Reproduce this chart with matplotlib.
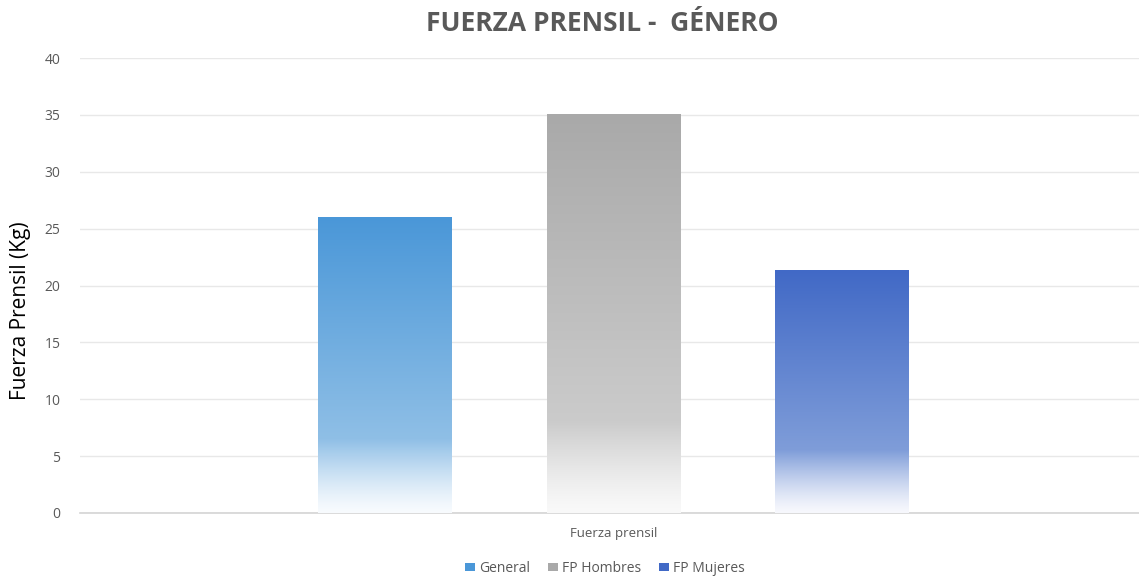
import numpy as np
import matplotlib
matplotlib.use("Agg")
import matplotlib.pyplot as plt
from matplotlib.colors import to_rgb
from matplotlib.patches import Patch

# ---- data ----
category = "Fuerza prensil"
series = ["General", "FP Hombres", "FP Mujeres"]
values = [26.0, 35.0, 21.3]
title = "FUERZA PRENSIL -  GÉNERO"
ylabel = "Fuerza Prensil (Kg)"
yticks = [0, 5, 10, 15, 20, 25, 30, 35, 40]

# ---- styles ----
top_colors = ["#4a97d8", "#a9a9a9", "#4169c6"]
mid_colors = ["#8fbfe6", "#cbcbcb", "#7f9dd9"]
bottom_colors = ["#f8fbfe", "#f9f9f9", "#f7f8fd"]
fade_start = [6.5, 8.0, 5.5]  # data y where fade to white begins

plt.rcParams['font.family'] = ['Open Sans', 'DejaVu Sans']
txt_gray = "#595959"

fig = plt.figure(figsize=(11.39, 5.78), dpi=100)
ax = fig.add_axes([80 / 1139, 65 / 578, 1 - 80 / 1139, 455 / 578])

ax.set_xlim(-0.504, 0.496)
ax.set_ylim(0, 40)
ax.set_yticks(yticks)
ax.grid(axis='y', color='#e8e8e8', linewidth=1)
ax.set_axisbelow(True)
for s in ["top", "right", "left"]:
    ax.spines[s].set_visible(False)
ax.spines["bottom"].set_color("#d4d4d4")
ax.spines["bottom"].set_linewidth(1.2)
ax.tick_params(axis='y', length=0, labelsize=10, labelcolor=txt_gray, pad=14)
ax.set_xticks([0])
ax.set_xticklabels([category])
ax.tick_params(axis='x', length=0, labelsize=9.5, labelcolor=txt_gray, pad=10)

width = 0.1265
spacing = 0.2158
offsets = [(i - 1) * spacing for i in range(len(series))]

bars = ax.bar(offsets, values, width=width, facecolor='none', edgecolor='none', zorder=2)

N = 400
for b, v, tc, mc, bc, fs in zip(bars, values, top_colors, mid_colors, bottom_colors, fade_start):
    ys = np.linspace(0, v, N)
    t, m, bo = np.array(to_rgb(tc)), np.array(to_rgb(mc)), np.array(to_rgb(bc))
    img = np.zeros((N, 1, 3))
    for k, y in enumerate(ys):
        if y >= fs:
            f = (y - fs) / (v - fs)
            c = m + (t - m) * f
        else:
            f = y / fs
            f = f ** 1.3
            c = bo + (m - bo) * f
        img[k, 0] = c
    x0 = b.get_x()
    ax.imshow(img, extent=[x0, x0 + b.get_width(), 0, v], origin='lower',
              aspect='auto', zorder=3, interpolation='bilinear')
ax.set_xlim(-0.504, 0.496)
ax.set_ylim(0, 40)

ax.set_ylabel(ylabel, fontsize=15, color='black')
ax.yaxis.set_label_coords(-0.046, 0.444)
fig.text(0.5285, 0.96, title, ha='center', va='center', fontsize=19,
         fontweight='bold', color=txt_gray)

handles = [Patch(facecolor=c, edgecolor='none') for c in top_colors]
fig.legend(handles, series, loc='center', bbox_to_anchor=(0.531, 0.017),
           ncol=3, frameon=False, fontsize=10, labelcolor=txt_gray,
           handlelength=0.7, handleheight=0.55, handletextpad=0.3, columnspacing=1.3)

fig.savefig("out.png", dpi=100)
